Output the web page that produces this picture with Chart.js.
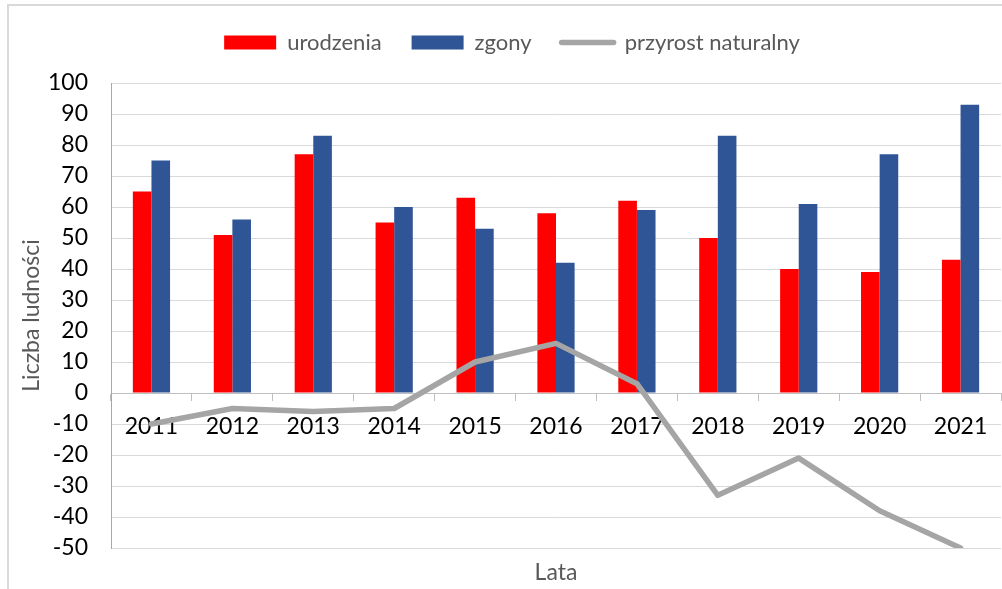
<!DOCTYPE html>
<html>
<head>
<meta charset="utf-8">
<script src="https://cdn.jsdelivr.net/npm/chart.js@4/dist/chart.umd.min.js"></script>
<style>
  html, body { margin: 0; padding: 0; background: #ffffff; overflow: hidden; }
  #frame { position: absolute; left: 7px; top: 4px; width: 1100px; height: 700px; border: 2px solid #d9d9d9; box-sizing: border-box; }
  #wrap { position: absolute; left: 0; top: 0; width: 1002px; height: 589px; }
</style>
</head>
<body>
<div id="frame"></div>
<div id="wrap"><canvas id="c" width="1002" height="589"></canvas></div>
<script>
const categories = ['2011','2012','2013','2014','2015','2016','2017','2018','2019','2020','2021'];
const urodzenia = [65, 51, 77, 55, 63, 58, 62, 50, 40, 39, 43];
const zgony = [75, 56, 83, 60, 53, 42, 59, 83, 61, 77, 93];
const przyrost = [-10, -5, -6, -5, 10, 16, 3, -33, -21, -38, -50];
const seriesNames = ['urodzenia', 'zgony', 'przyrost naturalny'];
const yTitle = 'Liczba ludności';
const xTitle = 'Lata';

const FONT = 'Lato, "Open Sans", sans-serif';

const legendSpacer = {
  id: 'legendSpacer',
  beforeInit(chart) {
    const fit = chart.legend.fit;
    chart.legend.fit = function () { fit.call(this); this.height += 19.5; };
  },
  afterLayout(chart) {
    chart.legend.left = 23;
  }
};

new Chart(document.getElementById('c'), {
  data: {
    labels: categories,
    datasets: [
      { type: 'bar', label: seriesNames[0], data: urodzenia, backgroundColor: '#ff0000', borderWidth: 0,
        categoryPercentage: 0.46, barPercentage: 1, order: 1 },
      { type: 'bar', label: seriesNames[1], data: zgony, backgroundColor: '#2f5597', borderWidth: 0,
        categoryPercentage: 0.46, barPercentage: 1, order: 1 },
      { type: 'line', label: seriesNames[2], data: przyrost, borderColor: '#a5a5a5', backgroundColor: '#a5a5a5',
        borderWidth: 5.5, pointRadius: 0, pointHoverRadius: 0, tension: 0, borderCapStyle: 'round',
        borderJoinStyle: 'round', fill: false, order: 0, pointStyle: 'line' }
    ]
  },
  options: {
    responsive: false,
    animation: false,
    events: [],
    layout: { padding: { top: 1.5, right: 1, bottom: 0, left: 0 } },
    plugins: {
      tooltip: { enabled: false },
      legend: {
        display: true,
        position: 'top',
        align: 'center',
        labels: {
          usePointStyle: true,
          pointStyleWidth: 52,
          boxWidth: 52,
          boxHeight: 14,
          padding: 30,
          color: '#595959',
          font: { family: FONT, size: 22 },
          sort: (a, b) => a.datasetIndex - b.datasetIndex,
          generateLabels(chart) {
            const items = Chart.defaults.plugins.legend.labels.generateLabels(chart);
            items.forEach(it => {
              const ds = chart.data.datasets[it.datasetIndex];
              it.pointStyle = ds.type === 'line' ? 'line' : 'rect';
              if (ds.type === 'line') { it.lineWidth = 5.5; it.strokeStyle = '#a5a5a5'; it.lineCap = 'round'; }
              else { it.lineWidth = 0; }
            });
            return items;
          }
        }
      }
    },
    scales: {
      x: {
        type: 'category',
        position: { y: 0 },
        offset: true,
        grid: { display: true, drawOnChartArea: false, drawTicks: true, tickLength: 7, color: '#bfbfbf', lineWidth: 1, offset: true },
        border: { display: true, color: '#bfbfbf', width: 1 },
        ticks: { color: '#000000', font: { family: FONT, size: 23 }, padding: 13, maxRotation: 0, autoSkip: false }
      },
      x2: {
        type: 'category',
        position: 'bottom',
        display: true,
        grid: { display: false },
        border: { display: false },
        ticks: { display: false },
        title: { display: true, text: xTitle, color: '#595959', font: { family: FONT, size: 23 }, padding: { top: 0, bottom: 3 } },
        afterFit(scale) { scale.height = 41; }
      },
      y: {
        type: 'linear',
        position: 'left',
        min: -50,
        max: 100,
        ticks: { stepSize: 10, color: '#000000', font: { family: FONT, size: 23 }, padding: 23 },
        grid: { color: '#d9d9d9', lineWidth: 1, drawTicks: false },
        border: { display: true, color: '#8faadc', width: 1 },
        title: { display: true, text: yTitle, color: '#595959', font: { family: FONT, size: 23 }, padding: { top: 18, bottom: 0 } },
        afterFit(scale) { scale.width = 111; }
      }
    }
  },
  plugins: [legendSpacer]
});
</script>
</body>
</html>
